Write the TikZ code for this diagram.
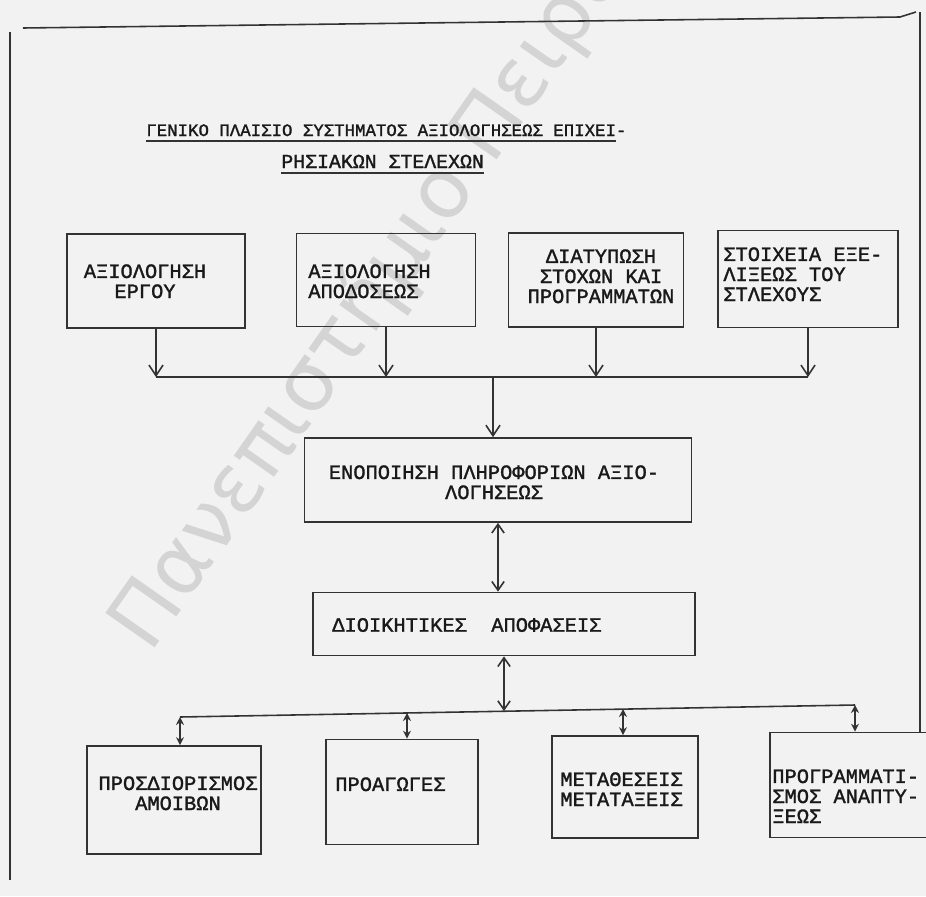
\documentclass[tikz,border=0pt]{standalone}
\usepackage{fontspec}
\usepackage{tikz}
\usetikzlibrary{arrows.meta, positioning}
\newfontfamily\tw[FakeBold=1.4]{Liberation Mono}
\newfontfamily\wm{DejaVu Sans}

\begin{document}
\begin{tikzpicture}[x=0.02cm, y=-0.02cm,
    box/.style={rectangle, draw=black!80, line width=1pt, inner sep=0pt},
    txt/.style={inner sep=0pt, text=black!90, font=\tw\fontsize{11.6}{11.4}\selectfont},
    link/.style={draw=black!80, line width=0.9pt},
    down/.style={link, -{Straight Barb[length=6pt,width=8pt]}},
    both/.style={link, {Straight Barb[length=5pt,width=7pt]}-{Straight Barb[length=5pt,width=7pt]}},
    pair/.style={link, line width=1.2pt, {Stealth[length=4.5pt,width=4.5pt]}-{Stealth[length=4.5pt,width=4.5pt]}}
]
    \useasboundingbox (0,0) rectangle (926,896);
    \clip (0,0) rectangle (926,896);
    \fill[black!5] (0,0) rectangle (926,896);
    \node[inner sep=0pt, rotate=55, anchor=base west, text=black!17,
          font=\wm\fontsize{47}{47}\selectfont] (mark) at (150,655) {Πανεπιστήμιο Πειραιώς};

    \draw[link] (23,28) -- (900,17) -- (916,12);
    \draw[link] (10,32) -- (10,880);
    \draw[link] (920,12) -- (920,733);

    \node[txt, anchor=base west, font=\tw\fontsize{9.9}{11}\selectfont] (title1) at (146,136)
        {ΓΕΝΙΚΟ ΠΛΑΙΣΙΟ ΣΥΣΤΗΜΑΤΟΣ ΑΞΙΟΛΟΓΗΣΕΩΣ ΕΠΙΧΕΙ-};
    \node[txt, anchor=base west, font=\tw\fontsize{11.3}{11}\selectfont] (title2) at (281,168)
        {ΡΗΣΙΑΚΩΝ ΣΤΕΛΕΧΩΝ};
    \draw[link] ([yshift=-3pt]title1.base west) -- ([xshift=-6pt,yshift=-3pt]title1.base east);
    \draw[link] ([yshift=-3pt]title2.base west) -- ([yshift=-3pt]title2.base east);

    \node[box, minimum width=3.56cm, minimum height=1.88cm] (work) at (156,281) {};
    \node[box, minimum width=3.58cm, minimum height=1.86cm] (perf) at (386,280) {};
    \node[box, minimum width=3.50cm, minimum height=1.88cm] (goals) at (596,280) {};
    \node[box, minimum width=3.60cm, minimum height=1.94cm] (devel) at (808,279) {};
    \node[txt, anchor=north, align=center] (work-t) at (145,264) {ΑΞΙΟΛΟΓΗΣΗ\\ΕΡΓΟΥ};
    \node[txt, anchor=north west, align=left] (perf-t) at (308,264) {ΑΞΙΟΛΟΓΗΣΗ\\ΑΠΟΔΟΣΕΩΣ};
    \node[txt, anchor=north, align=center] (goals-t) at (601,249) {ΔΙΑΤΥΠΩΣΗ\\ΣΤΟΧΩΝ ΚΑΙ\\ΠΡΟΓΡΑΜΜΑΤΩΝ};
    \node[txt, anchor=north west, align=left] (devel-t) at (723,247) {ΣΤΟΙΧΕΙΑ ΕΞΕ-\\ΛΙΞΕΩΣ ΤΟΥ\\ΣΤΛΕΧΟΥΣ};

    \coordinate (tl) at (156,377);
    \coordinate (tr) at (808,377);
    \coordinate (tj) at (493,377);
    \draw[link] (tl) -- (tr);
    \draw[down] (work) -- (work |- tl);
    \draw[down] (perf) -- (perf |- tl);
    \draw[down] (goals) -- (goals |- tl);
    \draw[down] (devel) -- (devel |- tl);

    \node[box, minimum width=7.74cm, minimum height=1.68cm] (merge) at (498,480) {};
    \node[txt, anchor=north, align=center] (merge-t) at (494,465) {ΕΝΟΠΟΙΗΣΗ ΠΛΗΡΟΦΟΡΙΩΝ ΑΞΙΟ-\\ΛΟΓΗΣΕΩΣ};
    \draw[down] (tj) -- (tj |- merge.north);

    \node[box, minimum width=7.64cm, minimum height=1.26cm] (decide) at (504,624) {};
    \node[txt, anchor=west] (decide-t) at (332,625) {ΔΙΟΙΚΗΤΙΚΕΣ\ \ ΑΠΟΦΑΣΕΙΣ};
    \draw[both] (merge.south) -- (merge.south |- decide.north);

    \coordinate (bl) at (180,717);
    \coordinate (b2) at (407,713);
    \coordinate (bd) at (504,711);
    \coordinate (b3) at (623,709);
    \coordinate (br) at (855,705);
    \draw[link] (bl) -- (br);
    \draw[both] (decide.south) -- (bd);

    \node[box, minimum width=3.48cm, minimum height=2.16cm] (pay) at (174,800) {};
    \node[box, minimum width=3.04cm, minimum height=2.10cm] (promo) at (402,792) {};
    \node[box, minimum width=2.92cm, minimum height=2.04cm] (move) at (625,787) {};
    \node[box, minimum width=3.40cm, minimum height=2.10cm] (plan) at (855,785) {};
    \node[txt, anchor=north, align=center] (pay-t) at (178,776) {ΠΡΟΣΔΙΟΡΙΣΜΟΣ\\ΑΜΟΙΒΩΝ};
    \node[txt, anchor=north west] (promo-t) at (335,777) {ΠΡΟΑΓΩΓΕΣ};
    \node[txt, anchor=north west, align=left] (move-t) at (560,772) {ΜΕΤΑΘΕΣΕΙΣ\\ΜΕΤΑΤΑΞΕΙΣ};
    \node[txt, anchor=north west, align=left] (plan-t) at (772,769) {ΠΡΟΓΡΑΜΜΑΤΙ-\\ΣΜΟΣ ΑΝΑΠΤΥ-\\ΞΕΩΣ};

    \draw[pair] (bl) -- (bl |- pay.north);
    \draw[pair] (b2) -- (b2 |- promo.north);
    \draw[pair] (b3) -- (b3 |- move.north);
    \draw[pair] (br) -- (br |- plan.north);
\end{tikzpicture}
\end{document}
